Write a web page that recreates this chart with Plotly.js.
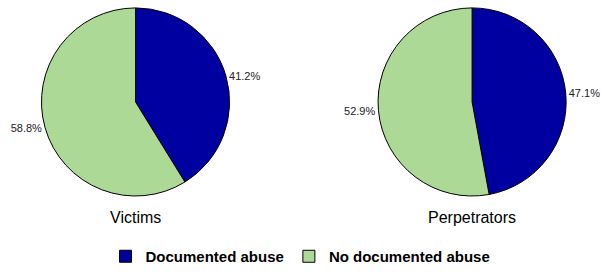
<!DOCTYPE html>
<html><head><meta charset="utf-8">
<script src="https://cdn.plot.ly/plotly-3.0.1.min.js"></script>
<style>html,body{margin:0;padding:0;background:#fff}</style>
</head><body><div id="chart" style="width:601px;height:273px"></div>
<script>
const categories = ["Documented abuse", "No documented abuse"];
const victims = [41.2, 58.8];
const perpetrators = [47.1, 52.9];
const groupNames = ["Victims", "Perpetrators"];
const colors = ["#0000A0", "#ADD996"];

function pieTrace(vals, dom, show) {
  return {
    type: "pie", labels: categories, values: vals, sort: false,
    direction: "clockwise", rotation: 0,
    marker: {colors: colors, line: {color: "#000", width: 1}},
    texttemplate: "%{percent:.1%}", textposition: "outside",
    outsidetextfont: {family: "Liberation Sans, Arial, sans-serif", size: 11, color: "#222"},
    domain: dom, showlegend: show, hoverinfo: "label+percent"
  };
}
const data = [
  pieTrace(victims, {x: [0.069, 0.382], y: [0.282, 0.971]}, true),
  pieTrace(perpetrators, {x: [0.629, 0.942], y: [0.282, 0.971]}, false)
];
const layout = {
  width: 601, height: 273, margin: {l: 0, r: 0, t: 0, b: 0},
  paper_bgcolor: "#fff",
  font: {family: "Liberation Sans, Arial, sans-serif"},
  legend: {orientation: "h", x: 0.5, xanchor: "center", y: 0.0, yanchor: "bottom",
    font: {size: 15, color: "#000", weight: "bold"}, itemwidth: 30, tracegroupgap: 0},
  annotations: [
    {text: groupNames[0], x: 0.2255, y: 0.205, xref: "paper", yref: "paper", showarrow: false,
     font: {size: 16, color: "#000"}, xanchor: "center", yanchor: "middle"},
    {text: groupNames[1], x: 0.785, y: 0.205, xref: "paper", yref: "paper", showarrow: false,
     font: {size: 16, color: "#000"}, xanchor: "center", yanchor: "middle"}
  ]
};
Plotly.newPlot("chart", data, layout, {displayModeBar: false, staticPlot: true});
</script></body></html>
